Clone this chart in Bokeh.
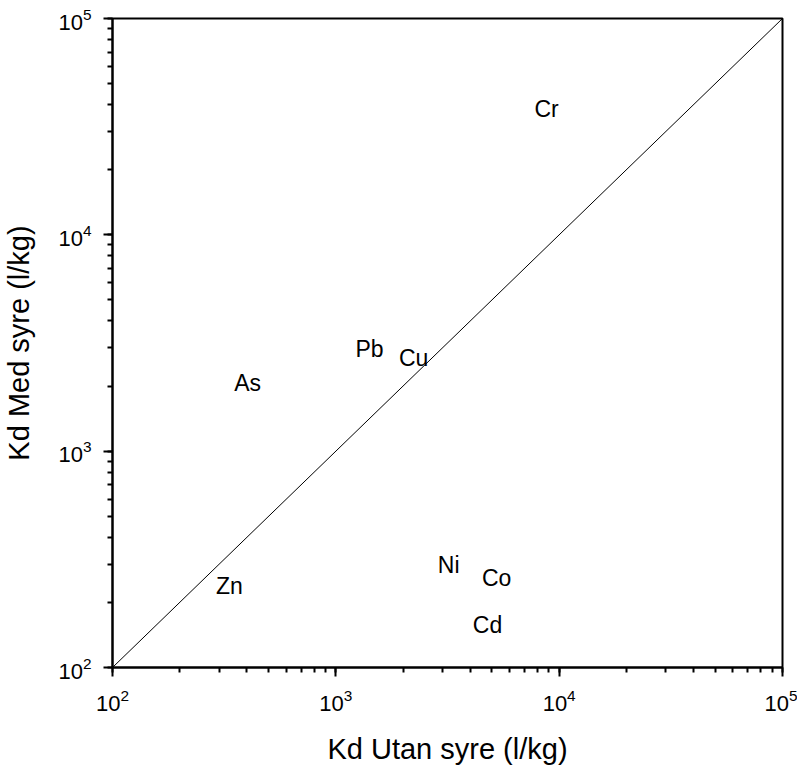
from bokeh.plotting import figure
from bokeh.models import Range1d, ColumnDataSource
from bokeh.core.properties import value
from bokeh.embed import file_html
from bokeh.resources import INLINE

# Data
metals = ["Cr", "As", "Pb", "Cu", "Zn", "Ni", "Co", "Cd"]
kd_utan_syre = [8780, 403, 1416, 2230, 334, 3200, 5250, 4780]
kd_med_syre = [38000, 2056, 2951, 2683, 237, 299, 258, 158]
line_x = [1e2, 1e5]
line_y = [1e2, 1e5]

FONT = "Liberation Sans"

p = figure(width=797, height=769,
           x_axis_type="log", y_axis_type="log",
           x_range=Range1d(1e2, 1e5), y_range=Range1d(1e2, 1e5),
           output_backend="svg", toolbar_location=None,
           min_border_left=112, min_border_right=15,
           min_border_top=18, min_border_bottom=102)

p.grid.visible = False
p.outline_line_color = "black"
p.outline_line_width = 2
p.outline_line_alpha = 1
p.background_fill_color = "white"
p.border_fill_color = "white"

for ax in (p.xaxis[0], p.yaxis[0]):
    ax.axis_line_color = "black"
    ax.axis_line_width = 2
    ax.major_tick_line_color = "black"
    ax.major_tick_line_width = 2
    ax.minor_tick_line_color = "black"
    ax.minor_tick_line_width = 2
    ax.major_tick_out = 9
    ax.major_tick_in = 0
    ax.minor_tick_out = 5
    ax.minor_tick_in = 0
    ax.major_label_text_font = FONT
    ax.major_label_text_font_size = "22px"
    ax.major_label_text_color = "black"
    ax.major_label_standoff = 12
    ax.axis_label_text_font = FONT
    ax.axis_label_text_font_size = "29px"
    ax.axis_label_text_font_style = "normal"
    ax.axis_label_text_color = "black"

p.xaxis[0].axis_label_standoff = 19
p.yaxis[0].axis_label_standoff = 20

p.xaxis.axis_label = "Kd Utan syre (l/kg)"
p.yaxis.axis_label = "Kd Med syre (l/kg)"

p.line(line_x, line_y, line_color="black", line_width=1)

src = ColumnDataSource(dict(x=kd_utan_syre, y=kd_med_syre, name=metals))
p.text(x="x", y="y", text="name", source=src,
       text_font=value(FONT), text_font_size="23px",
       text_align="center", text_baseline="middle", text_color="black")

open("out.html", "w").write(file_html(p, INLINE))
